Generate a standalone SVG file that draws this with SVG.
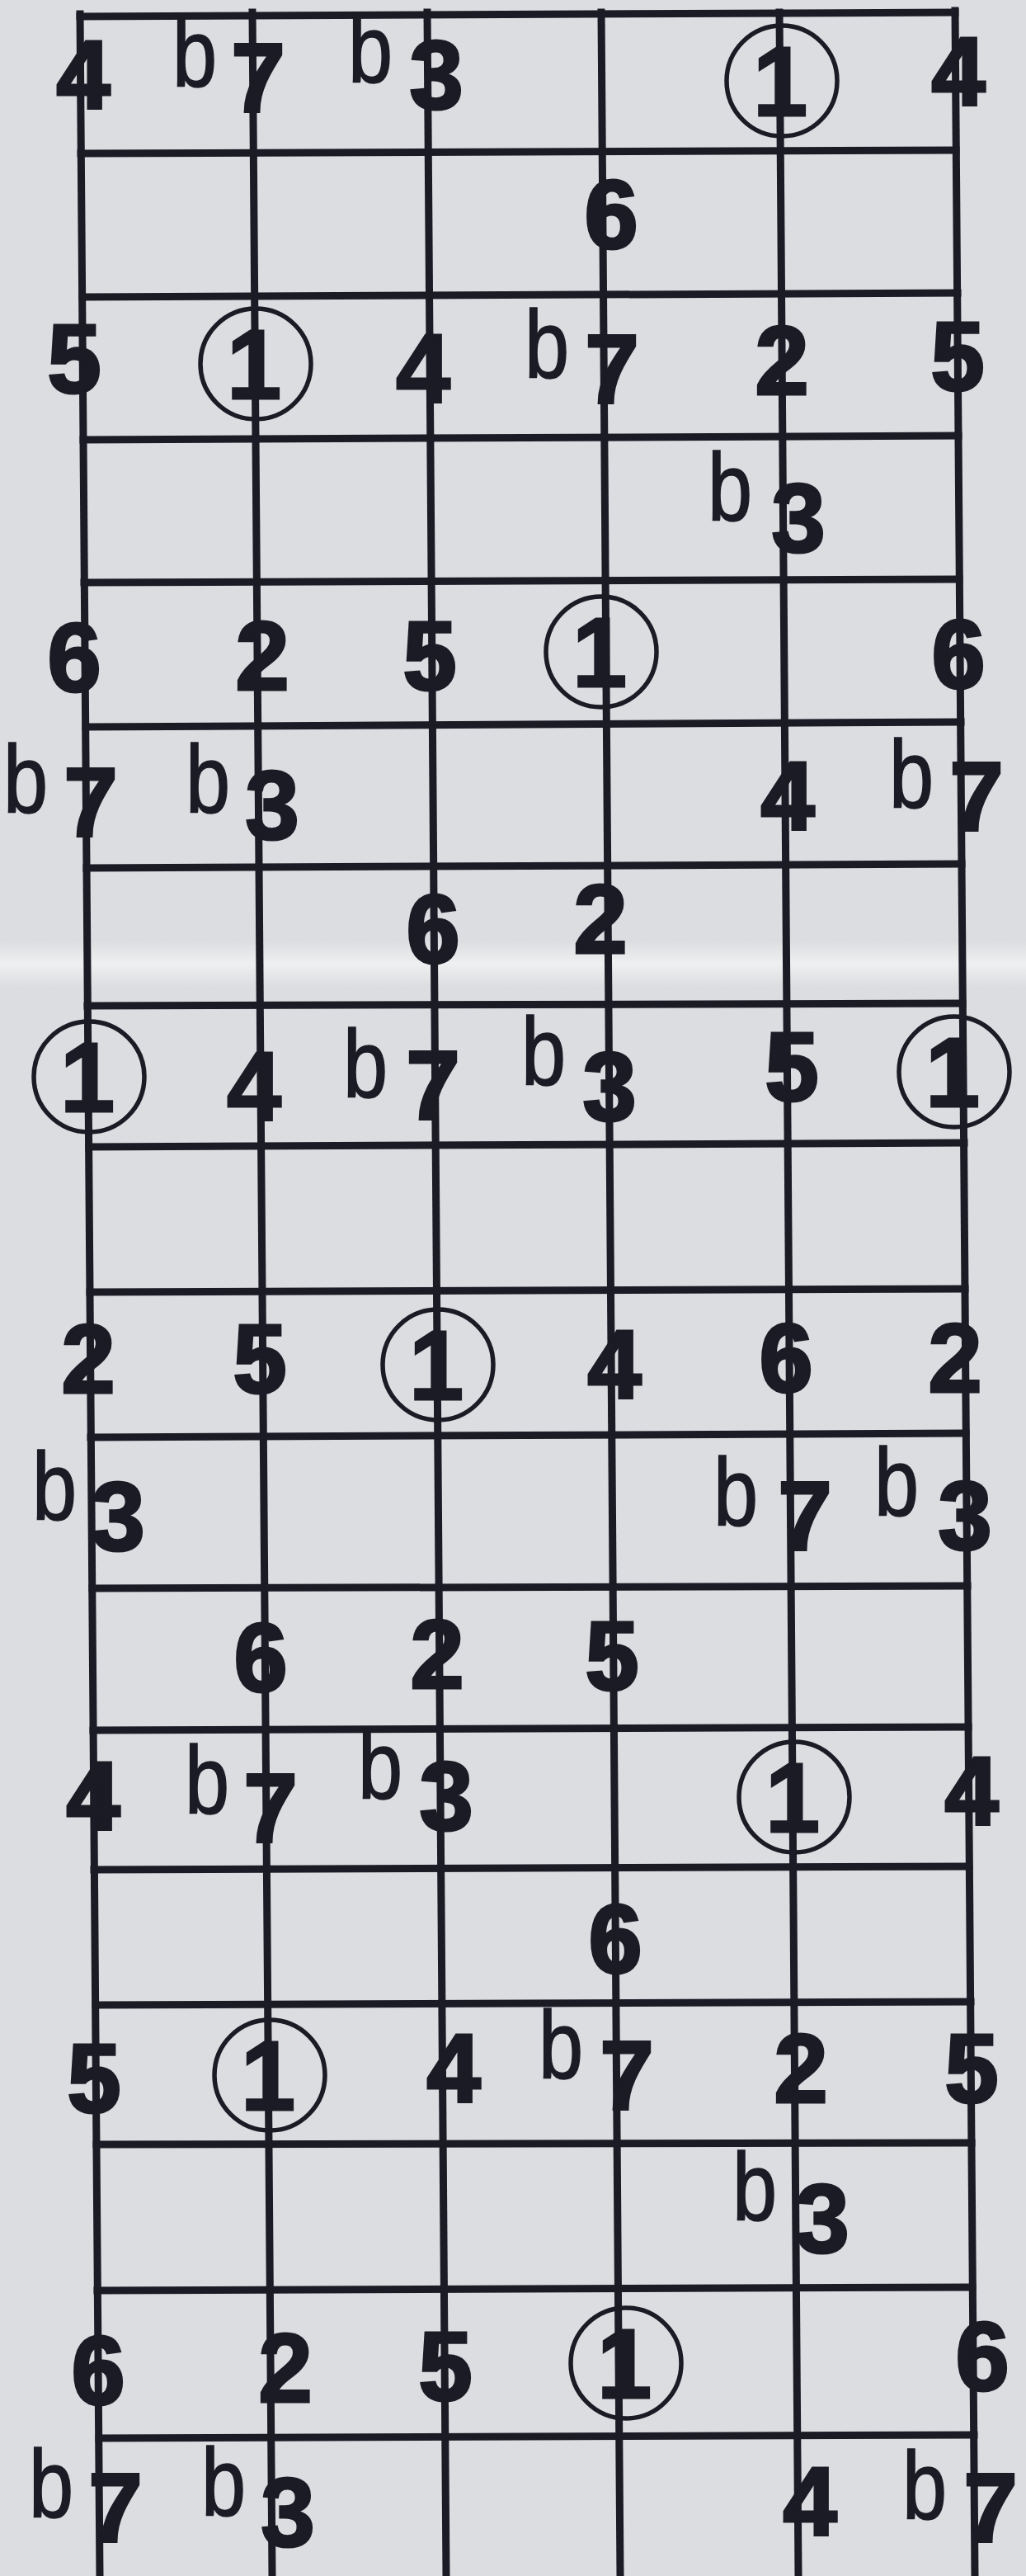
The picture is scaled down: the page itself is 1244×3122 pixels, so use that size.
<svg xmlns="http://www.w3.org/2000/svg" width="1244" height="3122" viewBox="0 0 1244 3122">
<defs>
<linearGradient id="crease" x1="0" y1="0" x2="0" y2="1">
<stop offset="0" stop-color="#ffffff" stop-opacity="0"/>
<stop offset="0.5" stop-color="#ffffff" stop-opacity="0.55"/>
<stop offset="1" stop-color="#ffffff" stop-opacity="0"/>
</linearGradient>
</defs>
<style>
.ink{stroke:#1b1b26;stroke-width:9;fill:none;stroke-linecap:square}
.d{font-family:"Liberation Sans",Arial,sans-serif;font-weight:bold;font-size:118px;fill:#1b1b26;stroke:#1b1b26;stroke-width:3;text-anchor:middle}
.b{font-family:"Liberation Sans",Arial,sans-serif;font-weight:normal;font-size:116px;fill:#1b1b26;stroke:#1b1b26;stroke-width:1.5;text-anchor:middle}
.c{fill:none;stroke:#1b1b26;stroke-width:5.5}
</style>
<rect x="0" y="0" width="1244" height="3122" fill="#dbdde0"/>
<rect x="0" y="1140" width="1244" height="56" fill="url(#crease)"/>
<g id="grid">
<line class="ink" x1="97" y1="17" x2="121" y2="3122"/>
<line class="ink" x1="306" y1="15" x2="330" y2="3122"/>
<line class="ink" x1="518" y1="15" x2="541" y2="3122"/>
<line class="ink" x1="729" y1="15" x2="752" y2="3122"/>
<line class="ink" x1="945" y1="15" x2="968" y2="3122"/>
<line class="ink" x1="1158" y1="13" x2="1182" y2="3122"/>
<line class="ink" x1="97" y1="20" x2="1158" y2="15"/>
<line class="ink" x1="98" y1="186" x2="1159" y2="182"/>
<line class="ink" x1="100" y1="360" x2="1161" y2="355"/>
<line class="ink" x1="101" y1="533" x2="1162" y2="528"/>
<line class="ink" x1="102" y1="706" x2="1163" y2="702"/>
<line class="ink" x1="104" y1="881" x2="1165" y2="875"/>
<line class="ink" x1="105" y1="1052" x2="1166" y2="1047"/>
<line class="ink" x1="106" y1="1219" x2="1167" y2="1216"/>
<line class="ink" x1="108" y1="1390" x2="1169" y2="1385"/>
<line class="ink" x1="109" y1="1566" x2="1170" y2="1562"/>
<line class="ink" x1="110" y1="1742" x2="1171" y2="1737"/>
<line class="ink" x1="112" y1="1925" x2="1173" y2="1922"/>
<line class="ink" x1="113" y1="2097" x2="1174" y2="2093"/>
<line class="ink" x1="114" y1="2266" x2="1175" y2="2262"/>
<line class="ink" x1="116" y1="2430" x2="1177" y2="2426"/>
<line class="ink" x1="117" y1="2599" x2="1178" y2="2597"/>
<line class="ink" x1="118" y1="2776" x2="1179" y2="2772"/>
<line class="ink" x1="120" y1="2955" x2="1181" y2="2951"/>
</g>
<g id="notes">
<g id="r0s1"><text class="d" x="101" y="132">4</text></g>
<g id="r0s2"><text class="b" transform="translate(236,105) scale(0.84,1)">b</text><text class="d" x="313" y="135">7</text></g>
<g id="r0s3"><text class="b" transform="translate(449,100) scale(0.84,1)">b</text><text class="d" x="529" y="132">3</text></g>
<g id="r0s5"><circle class="c" cx="948" cy="98" r="67"/><text class="d" x="946" y="140">1</text></g>
<g id="r0s6"><text class="d" x="1162" y="128">4</text></g>

<g id="r1s4"><text class="d" x="741" y="301">6</text></g>

<g id="r2s1"><text class="d" x="90" y="476">5</text></g>
<g id="r2s2"><circle class="c" cx="310" cy="441" r="67"/><text class="d" x="308" y="483">1</text></g>
<g id="r2s3"><text class="d" x="513" y="488">4</text></g>
<g id="r2s4"><text class="b" transform="translate(663,458) scale(0.84,1)">b</text><text class="d" x="742" y="488">7</text></g>
<g id="r2s5"><text class="d" x="948" y="478">2</text></g>
<g id="r2s6"><text class="d" x="1161" y="473">5</text></g>

<g id="r3s5"><text class="b" transform="translate(885,631) scale(0.84,1)">b</text><text class="d" x="968" y="669">3</text></g>

<g id="r4s1"><text class="d" x="90" y="838">6</text></g>
<g id="r4s2"><text class="d" x="318" y="836">2</text></g>
<g id="r4s3"><text class="d" x="521" y="836">5</text></g>
<g id="r4s4"><circle class="c" cx="729" cy="790" r="67"/><text class="d" x="727" y="832">1</text></g>
<g id="r4s6"><text class="d" x="1162" y="834">6</text></g>

<g id="r5s1"><text class="b" transform="translate(31,985) scale(0.84,1)">b</text><text class="d" x="110" y="1013">7</text></g>
<g id="r5s2"><text class="b" transform="translate(252,985) scale(0.84,1)">b</text><text class="d" x="330" y="1017">3</text></g>
<g id="r5s5"><text class="d" x="955" y="1006">4</text></g>
<g id="r5s6"><text class="b" transform="translate(1105,979) scale(0.84,1)">b</text><text class="d" x="1184" y="1006">7</text></g>

<g id="r6s3"><text class="d" x="525" y="1167">6</text></g>
<g id="r6s4"><text class="d" x="728" y="1155">2</text></g>

<g id="r7s1"><circle class="c" cx="108" cy="1305" r="67"/><text class="d" x="106" y="1347">1</text></g>
<g id="r7s2"><text class="d" x="308" y="1358">4</text></g>
<g id="r7s3"><text class="b" transform="translate(443,1330) scale(0.84,1)">b</text><text class="d" x="525" y="1356">7</text></g>
<g id="r7s4"><text class="b" transform="translate(659,1315) scale(0.84,1)">b</text><text class="d" x="739" y="1358">3</text></g>
<g id="r7s5"><text class="d" x="960" y="1334">5</text></g>
<g id="r7s6"><circle class="c" cx="1157" cy="1299" r="67"/><text class="d" x="1155" y="1341">1</text></g>

<g id="r9s1"><text class="d" x="107" y="1688">2</text></g>
<g id="r9s2"><text class="d" x="315" y="1688">5</text></g>
<g id="r9s3"><circle class="c" cx="531" cy="1654" r="67"/><text class="d" x="529" y="1696">1</text></g>
<g id="r9s4"><text class="d" x="745" y="1695">4</text></g>
<g id="r9s5"><text class="d" x="953" y="1687">6</text></g>
<g id="r9s6"><text class="d" x="1158" y="1687">2</text></g>

<g id="r10s1"><text class="b" transform="translate(66,1842) scale(0.84,1)">b</text><text class="d" x="143" y="1879">3</text></g>
<g id="r10s5"><text class="b" transform="translate(892,1849) scale(0.84,1)">b</text><text class="d" x="976" y="1878">7</text></g>
<g id="r10s6"><text class="b" transform="translate(1087,1837) scale(0.84,1)">b</text><text class="d" x="1170" y="1878">3</text></g>

<g id="r11s2"><text class="d" x="316" y="2050">6</text></g>
<g id="r11s3"><text class="d" x="530" y="2046">2</text></g>
<g id="r11s4"><text class="d" x="742" y="2048">5</text></g>

<g id="r12s1"><text class="d" x="113" y="2218">4</text></g>
<g id="r12s2"><text class="b" transform="translate(251,2198) scale(0.84,1)">b</text><text class="d" x="328" y="2232">7</text></g>
<g id="r12s3"><text class="b" transform="translate(461,2180) scale(0.84,1)">b</text><text class="d" x="541" y="2218">3</text></g>
<g id="r12s5"><circle class="c" cx="963" cy="2178" r="67"/><text class="d" x="961" y="2220">1</text></g>
<g id="r12s6"><text class="d" x="1178" y="2212">4</text></g>

<g id="r13s4"><text class="d" x="746" y="2391">6</text></g>

<g id="r14s1"><text class="d" x="114" y="2560">5</text></g>
<g id="r14s2"><circle class="c" cx="327" cy="2515" r="67"/><text class="d" x="325" y="2557">1</text></g>
<g id="r14s3"><text class="d" x="550" y="2548">4</text></g>
<g id="r14s4"><text class="b" transform="translate(680,2519) scale(0.84,1)">b</text><text class="d" x="760" y="2556">7</text></g>
<g id="r14s5"><text class="d" x="971" y="2548">2</text></g>
<g id="r14s6"><text class="d" x="1178" y="2548">5</text></g>

<g id="r15s5"><text class="b" transform="translate(915,2691) scale(0.84,1)">b</text><text class="d" x="997" y="2730">3</text></g>

<g id="r16s1"><text class="d" x="119" y="2914">6</text></g>
<g id="r16s2"><text class="d" x="346" y="2911">2</text></g>
<g id="r16s3"><text class="d" x="540" y="2909">5</text></g>
<g id="r16s4"><circle class="c" cx="759" cy="2864" r="67"/><text class="d" x="757" y="2906">1</text></g>
<g id="r16s6"><text class="d" x="1191" y="2897">6</text></g>

<g id="r17s1"><text class="b" transform="translate(62,3051) scale(0.84,1)">b</text><text class="d" x="140" y="3080">7</text></g>
<g id="r17s2"><text class="b" transform="translate(271,3049) scale(0.84,1)">b</text><text class="d" x="349" y="3086">3</text></g>
<g id="r17s5"><text class="d" x="982" y="3073">4</text></g>
<g id="r17s6"><text class="b" transform="translate(1121,3053) scale(0.84,1)">b</text><text class="d" x="1201" y="3080">7</text></g>
</g>
</svg>
